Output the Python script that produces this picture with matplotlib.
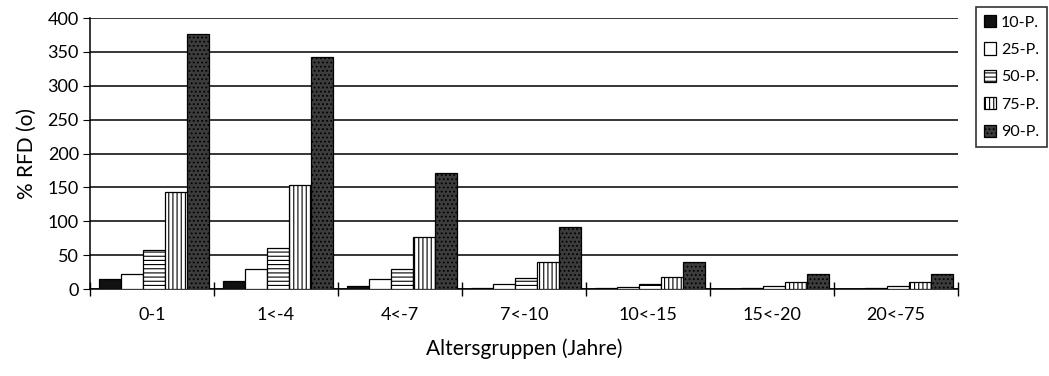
import numpy as np
import matplotlib
matplotlib.use("Agg")
import matplotlib.pyplot as plt

gruppen = ["0-1", "1<-4", "4<-7", "7<-10", "10<-15", "15<-20", "20<-75"]
p10 = [15, 12, 5, 2, 1, 0.5, 0.5]
p25 = [22, 30, 15, 8, 3, 2, 2]
p50 = [58, 60, 30, 17, 8, 5, 5]
p75 = [143, 153, 77, 40, 18, 11, 11]
p90 = [376, 343, 172, 91, 40, 22, 22]
reihen = ["10-P.", "25-P.", "50-P.", "75-P.", "90-P."]

plt.rcParams["font.family"] = ["Lato", "DejaVu Sans"]
plt.rcParams["hatch.linewidth"] = 0.8

fig = plt.figure(figsize=(10.49, 3.76), dpi=100)
ax = fig.add_axes([0.0858, 0.231, 0.8275, 0.721])

x = np.arange(len(gruppen))
breite = 0.178
stile = [
    dict(color="#111111", hatch=None),
    dict(color="white", hatch=None),
    dict(color="white", hatch="----"),
    dict(color="white", hatch="||||"),
    dict(color="#3c3c3c", hatch="...."),
]
for i, (werte, name, st) in enumerate(zip([p10, p25, p50, p75, p90], reihen, stile)):
    pos = x - 0.5 + 0.07 + breite * (i + 0.5)
    ax.bar(pos, werte, breite, facecolor=st["color"], edgecolor="black",
           hatch=st["hatch"], linewidth=0.9, label=name, zorder=3)

ax.set_xlim(-0.5, len(gruppen) - 0.5)
ax.set_ylim(0, 400)
ax.set_yticks(range(0, 401, 50))
ax.yaxis.grid(True, color="black", linewidth=1.1, zorder=0)
ax.set_axisbelow(True)

ax.set_xticks(np.arange(-0.5, len(gruppen), 1.0))
ax.set_xticklabels([])
ax.set_xticks(x, minor=True)
ax.set_xticklabels(gruppen, minor=True, fontsize=13)
ax.tick_params(axis="x", which="major", direction="inout", length=10, width=1)
ax.tick_params(axis="x", which="minor", length=0, pad=13)
ax.tick_params(axis="y", direction="out", length=5, labelsize=13, pad=3)

for s in ["top", "right"]:
    ax.spines[s].set_visible(False)
ax.spines["left"].set_linewidth(1.1)
ax.spines["bottom"].set_linewidth(1.1)

ax.set_ylabel("% RFD (o)", fontsize=15, labelpad=8)
ax.set_xlabel("Altersgruppen (Jahre)", fontsize=15, labelpad=11)

leg = fig.legend(loc="upper left", bbox_to_anchor=(0.927, 0.99), frameon=True,
                 fancybox=False, edgecolor="black", fontsize=11.5,
                 handlelength=0.8, handleheight=0.8, handletextpad=0.3,
                 labelspacing=0.8, borderpad=0.5, borderaxespad=0.2)
leg.get_frame().set_linewidth(1.2)

fig.savefig("out.png", dpi=100)
